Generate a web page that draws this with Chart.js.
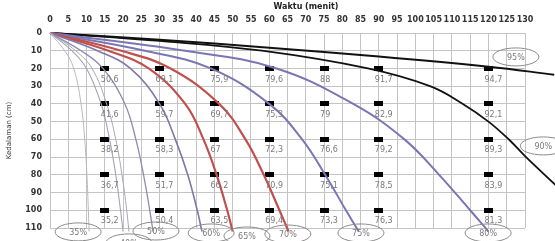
<!DOCTYPE html>
<html>
<head>
<meta charset="utf-8">
<script src="https://cdn.jsdelivr.net/npm/chart.js@4.4.1/dist/chart.umd.min.js"></script>
<style>
  html, body { margin: 0; padding: 0; background: #fff; }
  #wrap { width: 555px; height: 241px; }
</style>
</head>
<body>
<div id="wrap"><canvas id="chart"></canvas></div>
<script>
// measuring points: time (minutes) x depth (cm)
const times = [15, 30, 45, 60, 75, 90, 120];
const depths = [20, 40, 60, 80, 100];
const vals20 = [50.6, 69.1, 75.9, 79.6, 88, 91.7, 94.7];
const vals40 = [41.6, 59.7, 69.7, 75.3, 79, 82.9, 92.1];
const vals60 = [38.2, 58.3, 67, 72.3, 76.6, 79.2, 89.3];
const vals80 = [36.7, 51.7, 66.2, 70.9, 75.1, 78.5, 83.9];
const vals100 = [35.2, 50.4, 63.5, 69.4, 73.3, 76.3, 81.3];

// isolines, [time, depth]
const line35 = [[0,0],[4,10],[6.5,20],[8.5,40],[9.5,60],[10.1,80],[10.5,100],[10.7,112]];
const line40 = [[0,0],[6,10],[10,20],[14,40],[16.3,60],[18,80],[19.3,100],[20,112]];
const line45 = [[0,0],[7,10],[11.5,20],[15.5,40],[18,60],[19.7,80],[21,100],[21.6,112]];
const line50 = [[0,0],[8.5,10],[14.5,20],[20.5,40],[23.5,60],[25.6,80],[27.3,100],[28.2,112]];
const line60 = [[0,0],[13,10],[22,20],[30,40],[34.3,60],[37.7,80],[40.3,100],[41.6,112]];
const line65 = [[0,0],[16,10],[27,20],[37,40],[42,60],[45.6,80],[48.5,100],[50,112]];
const line70 = [[0,0],[19.5,10],[33,20],[46.3,40],[53.5,60],[58.5,80],[62.8,100],[65.3,112]];
const line75 = [[0,0],[26,10],[44,20],[60,40],[69,60],[75.3,80],[81,100],[84.5,112]];
const line80 = [[0,0],[37,10],[62,20],[83,40],[97,60],[106.5,80],[115,100],[120,112]];
const line90 = [[0,0],[30,4.5],[58,10],[87,20],[104,30],[113,40],[120,50],[125.8,60.5],[129.8,69],[139,87]];
const line95 = [[0,0],[30,3.8],[60,8.3],[90,13.2],[120,19],[138,23.5]];

const levels = ['35%', '40%', '45%', '50%', '60%', '65%', '70%', '75%', '80%', '90%', '95%'];
// where each level tag sits (time, depth); 45% has none visible
const tagT = [7.7, 21.6, null, 29, 44.1, 53.9, 65.1, 85.1, 119.9, 135, 127.5];
const tagD = [112.2, 118.4, null, 111.7, 112.8, 114.5, 113.4, 112.8, 112.8, 63.7, 13.5];

const curves = [line35, line40, line45, line50, line60, line65, line70, line75, line80, line90, line95];
const colors = ['#b8b8c0', '#a4a4b2', '#a8a8b6', '#8e8cac', '#7c78ac', '#c0504d', '#c0504d', '#7a76b4', '#7a76b4', '#111', '#111'];
const widths = [1, 1.1, 1, 1.3, 1.6, 2.2, 2.2, 2, 2, 1.8, 2];

const toXY = arr => arr.map(p => ({x: p[0], y: p[1]}));

const table = [vals20, vals40, vals60, vals80, vals100];
const markerPts = [];
const markerTxt = [];
depths.forEach((d, i) => {
  times.forEach((t, j) => {
    markerPts.push({x: t, y: d});
    markerTxt.push(String(table[i][j]).replace('.', ','));
  });
});

// small black bar used as the marker shape
const bar = document.createElement('canvas');
bar.width = 9; bar.height = 5;
const bctx = bar.getContext('2d');
bctx.fillStyle = '#000';
bctx.fillRect(0, 0, 9, 5);

const datasets = curves.map((c, i) => ({
  label: levels[i],
  data: toXY(c),
  showLine: true,
  borderColor: colors[i],
  borderWidth: widths[i],
  pointRadius: 0,
  tension: 0.4,
  clip: false
}));
datasets.push({
  label: 'titik',
  data: markerPts,
  pointStyle: bar,
  pointRadius: 5,
  showLine: false
});

const overlay = {
  id: 'overlay',
  afterDatasetsDraw(chart) {
    const ctx = chart.ctx;
    const xs = chart.scales.x, ys = chart.scales.y;
    ctx.save();
    // values under the markers
    ctx.font = '8px "DejaVu Sans"';
    ctx.fillStyle = '#7a7a7a';
    ctx.textAlign = 'left';
    ctx.textBaseline = 'middle';
    markerPts.forEach((p, k) => {
      const px = xs.getPixelForValue(p.x);
      const py = ys.getPixelForValue(p.y);
      ctx.fillText(markerTxt[k], px - 4, py + 11);
    });
    // level tags in ellipses
    ctx.strokeStyle = '#8a8a8a';
    ctx.lineWidth = 1;
    ctx.textAlign = 'center';
    levels.forEach((lv, i) => {
      if (tagT[i] === null) return;
      const px = xs.getPixelForValue(tagT[i]);
      const py = ys.getPixelForValue(tagD[i]);
      ctx.beginPath();
      ctx.ellipse(px, py, 23, 9, 0, 0, Math.PI * 2);
      ctx.stroke();
      ctx.fillText(lv, px, py + 1);
    });
    // axis title
    ctx.font = 'bold 8px "DejaVu Sans"';
    ctx.fillStyle = '#222';
    ctx.fillText('Waktu (menit)', 306, 7);
    ctx.restore();
  }
};

new Chart(document.getElementById('chart'), {
  type: 'scatter',
  data: { datasets: datasets },
  options: {
    responsive: true,
    maintainAspectRatio: false,
    animation: false,
    layout: { padding: { left: 0, right: 30, top: 0, bottom: 13 } },
    plugins: { legend: { display: false }, tooltip: { enabled: false } },
    scales: {
      x: {
        type: 'linear',
        position: 'top',
        min: 0, max: 130,
        afterFit: s => { s.height = 33; },
        ticks: {
          stepSize: 5, autoSkip: false, maxRotation: 0, padding: 8,
          color: '#333', font: { family: 'DejaVu Sans', size: 8, weight: 'bold' }
        },
        grid: { color: '#c4c4c4', drawTicks: false },
        border: { color: '#c4c4c4' }
      },
      y: {
        reverse: true,
        min: 0, max: 110,
        afterFit: s => { s.width = 50; },
        ticks: {
          stepSize: 10, padding: 8,
          color: '#333', font: { family: 'DejaVu Sans', size: 8, weight: 'bold' }
        },
        title: {
          display: true, text: 'Kedalaman (cm)', color: '#333',
          font: { family: 'DejaVu Sans', size: 7 }, padding: { top: 5, bottom: 0 }
        },
        grid: { color: '#c4c4c4', drawTicks: false },
        border: { color: '#c4c4c4' }
      }
    }
  },
  plugins: [overlay]
});
</script>
</body>
</html>
